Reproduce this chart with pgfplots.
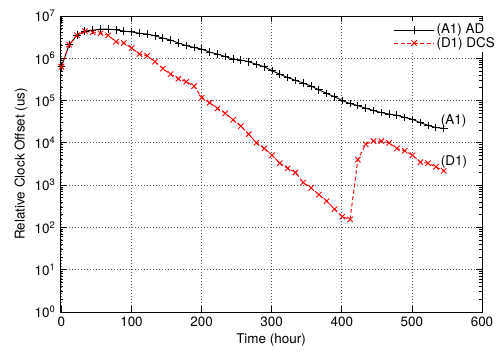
\documentclass[border=0pt]{standalone}
\usepackage{fontspec}
\setmainfont{TeX Gyre Heros}
\usepackage{pgfplots}
\pgfplotsset{compat=1.18}
\usepackage{pgfplotstable}
\pgfplotstableread{
x y
0 6.3e5
11.1 2.1e6
22.3 3.5e6
33.4 4.4e6
44.5 4.6e6
55.7 4.9e6
66.8 4.9e6
77.9 4.7e6
89.0 4.4e6
100.2 4.2e6
111.3 3.9e6
122.4 3.75e6
133.6 3.4e6
144.7 3.0e6
155.8 2.7e6
167.0 2.3e6
178.1 2.0e6
189.2 1.8e6
200.3 1.65e6
211.5 1.4e6
222.6 1.26e6
233.7 1.1e6
244.9 9.6e5
256.0 9.1e5
267.1 8.3e5
278.3 7.2e5
289.4 6.3e5
300.5 5.1e5
311.6 4.2e5
322.8 3.5e5
333.9 3.0e5
345.0 2.6e5
356.2 2.2e5
367.3 1.8e5
378.4 1.48e5
389.6 1.23e5
400.7 1.0e5
411.8 8.5e4
422.9 7.6e4
434.1 6.6e4
445.2 5.8e4
456.3 5.2e4
467.5 4.8e4
478.6 4.5e4
489.7 4.0e4
500.9 3.6e4
512.0 3.0e4
523.1 2.6e4
534.2 2.3e4
545.4 2.2e4
}\tableA
\pgfplotstableread{
x y
0 6.3e5
11.1 2.1e6
22.3 3.5e6
33.4 4.4e6
44.5 4.1e6
55.7 3.9e6
66.8 3.5e6
77.9 2.45e6
89.0 2.3e6
100.2 1.75e6
111.3 1.26e6
122.4 1.15e6
133.6 8.3e5
144.7 5.7e5
155.8 4.2e5
167.0 3.3e5
178.1 2.8e5
189.2 2.2e5
200.3 1.17e5
211.5 8.9e4
222.6 6.5e4
233.7 5.0e4
244.9 3.5e4
256.0 2.5e4
267.1 1.6e4
278.3 1.0e4
289.4 7.4e3
300.5 5.1e3
311.6 3.3e3
322.8 2.5e3
333.9 2.0e3
345.0 1.15e3
356.2 8.6e2
367.3 6.0e2
378.4 4.2e2
389.6 2.7e2
400.7 1.8e2
411.8 1.55e2
422.9 4.0e3
434.1 9.3e3
445.2 1.1e4
456.3 1.1e4
467.5 1.0e4
478.6 7.4e3
489.7 6.5e3
500.9 5.1e3
512.0 3.5e3
523.1 3.3e3
534.2 2.7e3
545.4 2.2e3
}\tableD
\begin{document}
\fontsize{13.5}{16}\selectfont
\begin{tikzpicture}
\useasboundingbox (-60bp,-46bp) rectangle (442bp,312bp);
\begin{axis}[
  name=ax,
  scale only axis,
  width=422bp, height=296bp,
  anchor=south west, at={(0,0)},
  ymode=log,
  xmin=-2, xmax=600,
  ymin=1, ymax=1e7,
  xtick={0,100,...,600},
  ytick={1,10,100,1000,10000,100000,1000000,10000000},
  yticklabels={10\textsuperscript{0},10\textsuperscript{1},10\textsuperscript{2},10\textsuperscript{3},10\textsuperscript{4},10\textsuperscript{5},10\textsuperscript{6},10\textsuperscript{7}},
  /pgf/number format/assume math mode=true,
  ticklabel style={font=\fontsize{13.5}{16}\selectfont},
  label style={font=\fontsize{13.5}{16}\selectfont},
  xlabel={Time (hour)},
  ylabel={Relative Clock Offset (us)},
  xlabel style={yshift=2bp},
  ylabel style={yshift=-2bp},
  major tick length=6bp,
  minor tick length=3bp,
  tick style={black, line width=0.8bp},
  axis line style={line width=0.8bp},
  grid=major,
  major grid style={black!65, line width=0.8bp, dash pattern=on 1bp off 2bp},
  legend style={draw=none, fill=white, at={(1,1)}, anchor=north east, xshift=16bp, yshift=-5bp,
    font=\fontsize{13.5}{15}\selectfont, row sep=-3bp, inner sep=1bp},
  legend cell align=left,
  legend image code/.code={\draw[mark repeat=2,mark phase=2,#1] plot coordinates {(0bp,0bp) (20bp,0bp) (40bp,0bp)};},
]
\addplot[black, line width=0.9bp, mark=+, mark size=3.8bp, mark options={solid, line width=0.9bp}] table {\tableA};
\addlegendentry{(A1) AD}
\addplot[red, line width=0.9bp, dash pattern=on 4bp off 2.5bp, mark=x, mark size=3.8bp, mark options={solid, line width=0.9bp}] table {\tableD};
\addlegendentry{(D1) DCS}
\node[anchor=west, font=\fontsize{13.5}{16}\selectfont, inner sep=0pt] at (axis cs:541,3.3e4) {(A1)};
\node[anchor=west, font=\fontsize{13.5}{16}\selectfont, inner sep=0pt] at (axis cs:541,3.5e3) {(D1)};
\end{axis}
\end{tikzpicture}
\end{document}
